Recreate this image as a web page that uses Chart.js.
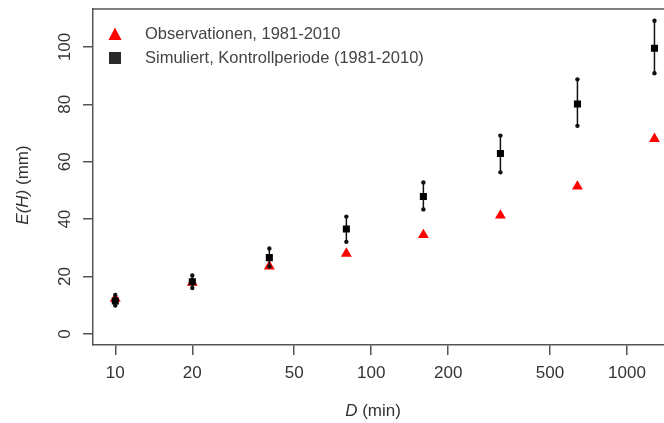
<!DOCTYPE html>
<html>
<head>
<meta charset="utf-8">
<script src="https://cdn.jsdelivr.net/npm/chart.js@4/dist/chart.umd.min.js"></script>
<style>
  html, body { margin: 0; padding: 0; background: #fff; overflow: hidden; }
  #wrap { width: 690px; height: 423px; }
</style>
</head>
<body>
<div id="wrap"><canvas id="myChart" width="690" height="423"></canvas></div>
<script>
// data
var durations = [10, 20, 40, 80, 160, 320, 640, 1280];
var observed  = [12.3, 17.9, 23.6, 28.0, 34.5, 41.3, 51.4, 68.0];
var simMean   = [11.5, 18.2, 26.6, 36.6, 47.9, 62.9, 80.1, 99.5];
var simLow    = [9.9, 16.0, 23.5, 32.1, 43.4, 56.3, 72.5, 90.8];
var simHigh   = [13.6, 20.4, 29.8, 40.9, 52.8, 69.1, 88.7, 109.1];
var xTicks = [10, 20, 50, 100, 200, 500, 1000];
var yTicks = [0, 20, 40, 60, 80, 100];
var legendLabels = ['Observationen, 1981-2010', 'Simuliert, Kontrollperiode (1981-2010)'];

var FONT = '"Liberation Sans", Arial, sans-serif';
var axisColor = '#555';

function pts(ys) {
    return durations.map(function(d, i) { return {x: d, y: ys[i]}; });
}

//error bars, legend, titles
var extras = {
    id: 'extras',
    afterDatasetDraw: function(chart, args) {
        if (args.index !== 1) return;
        var ctx = chart.ctx, xs = chart.scales.x, ys = chart.scales.y;
        ctx.save();
        ctx.strokeStyle = '#111';
        ctx.fillStyle = '#111';
        ctx.lineWidth = 1.5;
        for (var i = 0; i < durations.length; i++) {
            var px = xs.getPixelForValue(durations[i]);
            var y1 = ys.getPixelForValue(simLow[i]);
            var y2 = ys.getPixelForValue(simHigh[i]);
            ctx.beginPath();
            ctx.moveTo(px, y1);
            ctx.lineTo(px, y2);
            ctx.stroke();
            [y1, y2].forEach(function(yy) {
                ctx.beginPath();
                ctx.arc(px, yy, 2.2, 0, Math.PI * 2);
                ctx.fill();
            });
        }
        ctx.restore();
    },
    afterDraw: function(chart) {
        var ctx = chart.ctx, a = chart.chartArea, ys = chart.scales.y;
        ctx.save();
        // top border of the box
        ctx.strokeStyle = axisColor;
        ctx.lineWidth = 1.5;
        ctx.beginPath();
        ctx.moveTo(a.left, a.top);
        ctx.lineTo(a.right, a.top);
        ctx.stroke();

        // rotated y tick labels
        ctx.fillStyle = '#333';
        ctx.font = '17px ' + FONT;
        ctx.textAlign = 'center';
        ctx.textBaseline = 'middle';
        yTicks.forEach(function(v) {
            ctx.save();
            ctx.translate(65, ys.getPixelForValue(v));
            ctx.rotate(-Math.PI / 2);
            ctx.fillText(String(v), 0, 0);
            ctx.restore();
        });

        // y title: E(H) (mm)
        ctx.save();
        ctx.translate(23, 185);
        ctx.rotate(-Math.PI / 2);
        ctx.textAlign = 'left';
        var p1 = 'E(H)', p2 = ' (mm)';
        ctx.font = 'italic 17px ' + FONT;
        var w1 = ctx.measureText(p1).width;
        ctx.font = '17px ' + FONT;
        var w2 = ctx.measureText(p2).width;
        var sx = -(w1 + w2) / 2;
        ctx.font = 'italic 17px ' + FONT;
        ctx.fillText(p1, sx, 0);
        ctx.font = '17px ' + FONT;
        ctx.fillText(p2, sx + w1, 0);
        ctx.restore();

        // x title: D (min)
        ctx.textAlign = 'left';
        ctx.font = 'italic 17px ' + FONT;
        var d1 = ctx.measureText('D').width;
        ctx.font = '17px ' + FONT;
        var d2 = ctx.measureText(' (min)').width;
        var tx = 373 - (d1 + d2) / 2;
        ctx.font = 'italic 17px ' + FONT;
        ctx.fillText('D', tx, 411);
        ctx.font = '17px ' + FONT;
        ctx.fillText(' (min)', tx + d1, 411);

        // legend
        ctx.fillStyle = '#ff0000';
        ctx.beginPath();
        ctx.moveTo(115, 27.5);
        ctx.lineTo(121.5, 40);
        ctx.lineTo(108.5, 40);
        ctx.closePath();
        ctx.fill();
        ctx.fillStyle = '#2a2a2a';
        ctx.fillRect(109, 52, 12, 12);
        ctx.fillStyle = '#444';
        ctx.font = '16.5px ' + FONT;
        ctx.fillText(legendLabels[0], 145, 34);
        ctx.fillText(legendLabels[1], 145, 58);
        ctx.restore();
    }
};

// 256 px per decade, 10 sits at x = 115, plot area runs 93..684
var xMin = Math.pow(10, 1 - 22.3 / 256);
var xMax = Math.pow(10, 1 + (684 - 115.3) / 256);

var ctx = document.getElementById('myChart').getContext('2d');
var chart = new Chart(ctx, {
    type: 'scatter',
    data: {
        datasets: [
            {
                label: legendLabels[1],
                data: pts(simMean),
                pointStyle: 'rect',
                pointRadius: 5,
                backgroundColor: '#000',
                borderColor: '#000',
                borderWidth: 0,
                order: 0
            },
            {
                label: legendLabels[0],
                data: pts(observed),
                pointStyle: 'triangle',
                pointRadius: 6.3,
                backgroundColor: '#ff0000',
                borderColor: '#ff0000',
                borderWidth: 0,
                order: 1
            }
        ]
    },
    options: {
        responsive: false,
        animation: false,
        layout: { padding: { top: 9, left: 0, right: 0, bottom: 0 } },
        plugins: { legend: { display: false }, tooltip: { enabled: false } },
        scales: {
            x: {
                type: 'logarithmic',
                min: xMin,
                max: xMax,
                afterBuildTicks: function(scale) {
                    scale.ticks = xTicks.map(function(v) { return {value: v}; });
                },
                afterFit: function(scale) { scale.height = 78; },
                ticks: {
                    autoSkip: false,
                    maxRotation: 0,
                    padding: 8,
                    color: '#333',
                    font: { family: FONT, size: 17 },
                    callback: function(v) { return String(v); }
                },
                grid: { drawOnChartArea: false, tickLength: 10, color: axisColor, lineWidth: 1.5 },
                border: { display: true, color: axisColor, width: 1.5 }
            },
            y: {
                type: 'linear',
                min: -3.83,
                max: 113.2,
                afterBuildTicks: function(scale) {
                    scale.ticks = yTicks.map(function(v) { return {value: v}; });
                },
                afterFit: function(scale) { scale.width = 93; },
                ticks: { display: false },
                grid: { drawOnChartArea: false, tickLength: 10, color: axisColor, lineWidth: 1.5 },
                border: { display: true, color: axisColor, width: 1.5 }
            }
        }
    },
    plugins: [extras]
});
</script>
</body>
</html>
